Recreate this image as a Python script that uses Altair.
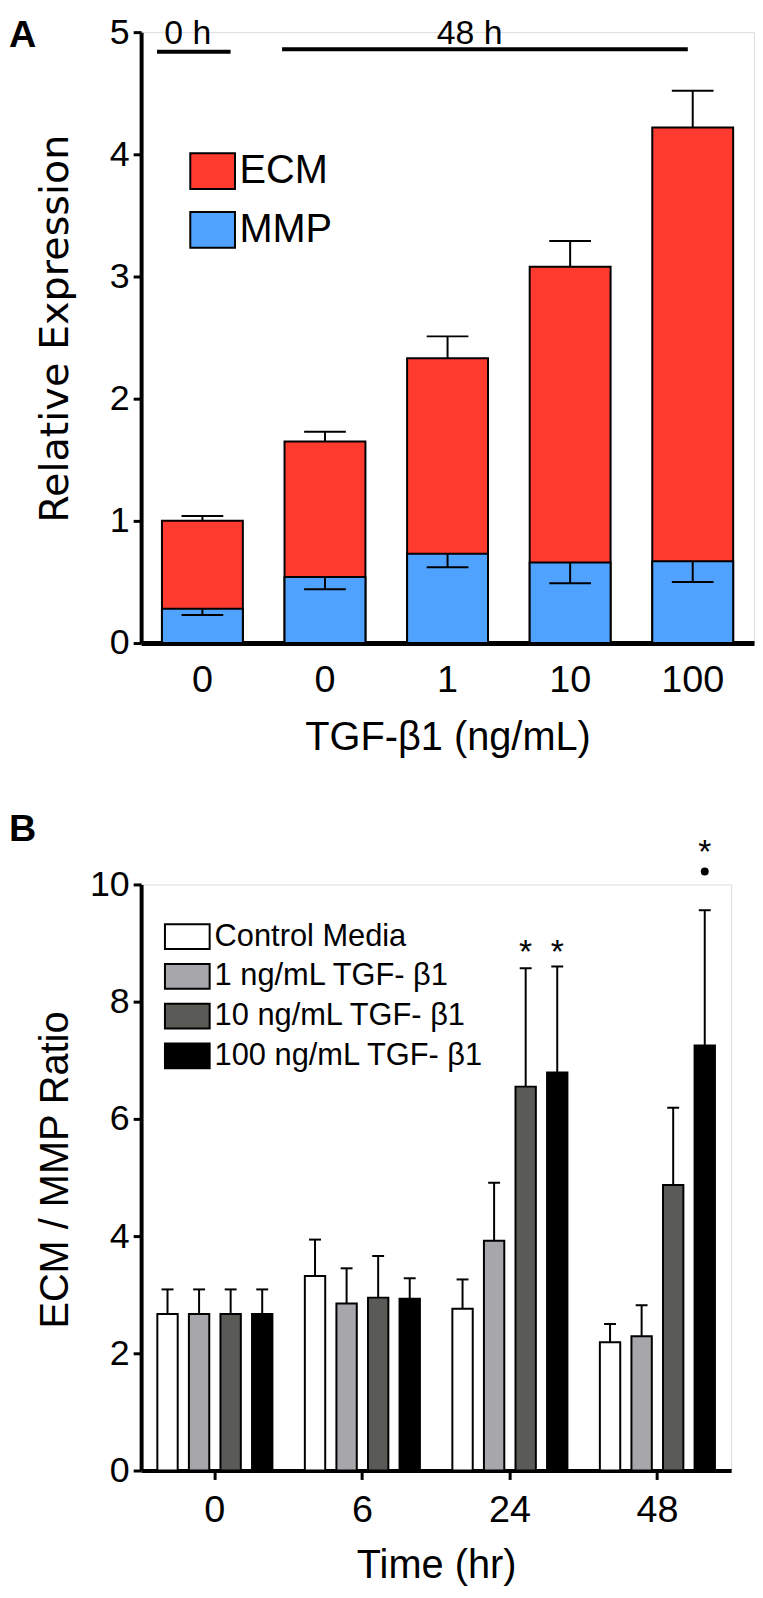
import altair as alt
import pandas as pd

# ---------------- Panel A data ----------------
a_keys = ["0h_0", "48h_0", "48h_1", "48h_10", "48h_100"]
a_tick_labels = ["0", "0", "1", "10", "100"]
a_measures = ["ECM", "MMP"]
a_colors = ["#ff3a2e", "#50a2ff"]
ecm_mean = [1.00, 1.65, 2.33, 3.08, 4.22]
ecm_err = [1.04, 1.73, 2.51, 3.29, 4.52]
mmp_mean = [0.28, 0.54, 0.73, 0.66, 0.67]
mmp_err = [0.23, 0.44, 0.62, 0.49, 0.50]

bracket_labels = ["0 h", "48 h"]
bracket_start = [0.13, 1.15]
bracket_end = [0.73, 4.46]
bracket_line_y = [4.84, 4.86]
bracket_text_x = [0.38, 2.68]
bracket_text_y = [4.90, 4.90]

# ---------------- Panel B data ----------------
b_times = ["0", "6", "24", "48"]
b_series = ["Control Media", "1 ng/mL TGF- β1", "10 ng/mL TGF- β1", "100 ng/mL TGF- β1"]
b_colors = ["#ffffff", "#a7a7ab", "#5a5b56", "#000000"]
b_control = [2.67, 3.32, 2.76, 2.19]
b_1ng = [2.67, 2.85, 3.92, 2.29]
b_10ng = [2.67, 2.95, 6.55, 4.87]
b_100ng = [2.67, 2.93, 6.79, 7.25]
b_control_err = [3.09, 3.94, 3.26, 2.50]
b_1ng_err = [3.09, 3.45, 4.91, 2.82]
b_10ng_err = [3.09, 3.66, 8.57, 6.19]
b_100ng_err = [3.09, 3.28, 8.60, 9.56]

star_times = ["24", "24", "48"]
star_series = [b_series[2], b_series[3], b_series[3]]
star_y = [8.99, 8.99, 10.68]
dot_times = ["48"]
dot_series = [b_series[3]]
dot_y = [10.22]

FONT = "Liberation Sans, Arial, Helvetica, sans-serif"
TFONT = "DejaVu Sans, Verdana, sans-serif"

# ---------------- Panel A tables ----------------
rowsA = []
for k, v in zip(a_keys, ecm_mean):
    rowsA.append({"cond": k, "measure": "ECM", "value": v})
for k, v in zip(a_keys, mmp_mean):
    rowsA.append({"cond": k, "measure": "MMP", "value": v})
dfA = pd.DataFrame(rowsA)
dfA_err = pd.DataFrame({"cond": a_keys + a_keys,
                        "value": ecm_mean + mmp_mean,
                        "err": ecm_err + mmp_err})
dfA_br = pd.DataFrame({"label": bracket_labels, "start": bracket_start, "end": bracket_end,
                       "ly": bracket_line_y, "tx": bracket_text_x, "ty": bracket_text_y})

label_map = "{" + ",".join(f"'{k}':'{l}'" for k, l in zip(a_keys, a_tick_labels)) + "}"

xA_scale = alt.Scale(domain=a_keys, paddingInner=0.34, paddingOuter=0.17)
yA_scale = alt.Scale(domain=[0, 5], nice=False)

axis_xA = alt.Axis(labelExpr=f"{label_map}[datum.value]", ticks=False, tickSize=0,
                   domainWidth=5, domainColor="black", labelAngle=0,
                   labelFont=FONT, labelFontSize=38, labelColor="black", labelPadding=19,
                   title="TGF-β1 (ng/mL)", titleFont=FONT, titleFontSize=40,
                   titleFontWeight="normal", titleColor="black",
                   titleY=107, titleBaseline="alphabetic")
axis_yA = alt.Axis(values=[0, 1, 2, 3, 4, 5], tickSize=8, tickWidth=3, tickColor="black",
                   domainWidth=4, domainColor="black", grid=False,
                   labelFont=FONT, labelFontSize=36, labelColor="black", labelPadding=4,
                   title="Relative Expression", titleFont=TFONT, titleFontSize=40,
                   titleFontWeight="normal", titleColor="black",
                   titleX=-74, titleY=298, titleBaseline="alphabetic", titleAlign="center",
                   titleAngle=270)


def XA():
    return alt.X("cond:N", sort=a_keys, scale=xA_scale, axis=axis_xA)


def YA(field):
    return alt.Y(field, scale=yA_scale, axis=axis_yA, stack=None)


legA = alt.Legend(orient="none", legendX=52, legendY=120, title=None,
                  symbolType="M-1.25,-1H1.25V1H-1.25Z", symbolSize=1296,
                  symbolStrokeColor="black", symbolStrokeWidth=2, symbolOpacity=1,
                  labelFont=FONT, labelFontSize=40, labelColor="black",
                  labelOffset=7, rowPadding=15, padding=0, labelLimit=400)

barsA = alt.Chart(dfA).mark_bar(stroke="black", strokeWidth=2, opacity=1).encode(
    x=XA(), y=YA("value:Q"),
    fill=alt.Fill("measure:N", scale=alt.Scale(domain=a_measures, range=a_colors), legend=legA),
)
ruleA = alt.Chart(dfA_err).mark_rule(color="black", strokeWidth=2).encode(
    x=XA(), y=YA("value:Q"), y2="err:Q")
capA = alt.Chart(dfA_err).mark_tick(color="black", size=42, thickness=2, opacity=1).encode(
    x=XA(), y=YA("err:Q"))

brX = alt.Scale(domain=[0, 5], nice=False, zero=False)
brRule = alt.Chart(dfA_br).mark_rule(color="black", strokeWidth=4).encode(
    x=alt.X("start:Q", scale=brX, axis=None), x2="end:Q", y=YA("ly:Q"))
brText = alt.Chart(dfA_br).mark_text(font=FONT, fontSize=34, color="black",
                                     baseline="alphabetic", align="center").encode(
    x=alt.X("tx:Q", scale=brX, axis=None), y=YA("ty:Q"), text="label:N")

labA = alt.Chart(pd.DataFrame({"t": ["A"]})).mark_text(
    font=FONT, fontSize=38, fontWeight="bold", color="black", align="left", baseline="top"
).encode(text="t:N", x=alt.value(-133), y=alt.value(-15))

panelA = alt.layer(
    alt.layer(barsA, ruleA, capA),
    alt.layer(brRule, brText),
    labA,
).resolve_scale(x="independent").properties(width=617, height=615)

# ---------------- Panel B tables ----------------
rowsB = []
for s, means, errs in zip(b_series, [b_control, b_1ng, b_10ng, b_100ng],
                          [b_control_err, b_1ng_err, b_10ng_err, b_100ng_err]):
    for t, m, e in zip(b_times, means, errs):
        rowsB.append({"time": t, "series": s, "mean": m, "err": e})
dfB = pd.DataFrame(rowsB)
dfStar = pd.DataFrame({"time": star_times, "series": star_series, "y": star_y})
dfDot = pd.DataFrame({"time": dot_times, "series": dot_series, "y": dot_y})

xB_scale = alt.Scale(domain=b_times, paddingInner=0.22, paddingOuter=0.11)
xoB_scale = alt.Scale(domain=b_series, paddingInner=0.355, paddingOuter=0)
yB_scale = alt.Scale(domain=[0, 10], nice=False)

axis_xB = alt.Axis(tickSize=9, tickWidth=3, tickColor="black", domainWidth=4, domainColor="black",
                   labelAngle=0, labelFont=FONT, labelFontSize=38, labelColor="black",
                   labelPadding=12, title="Time (hr)", titleFont=FONT, titleFontSize=40,
                   titleFontWeight="normal", titleColor="black",
                   titleY=108, titleBaseline="alphabetic")
axis_yB = alt.Axis(values=[0, 2, 4, 6, 8, 10], tickSize=8, tickWidth=3, tickColor="black",
                   domainWidth=4, domainColor="black", grid=False,
                   labelFont=FONT, labelFontSize=36, labelColor="black", labelPadding=4,
                   title="ECM / MMP Ratio", titleFont=FONT, titleFontSize=40,
                   titleFontWeight="normal", titleColor="black",
                   titleX=-74, titleY=287, titleBaseline="alphabetic", titleAlign="center",
                   titleAngle=270)


def XB():
    return alt.X("time:N", sort=b_times, scale=xB_scale, axis=axis_xB)


def XOB():
    return alt.XOffset("series:N", sort=b_series, scale=xoB_scale)


def YB(field):
    return alt.Y(field, scale=yB_scale, axis=axis_yB, stack=None)


legB = alt.Legend(orient="none", legendX=31, legendY=37, title=None,
                  symbolType="M-1.8,-1H1.8V1H-1.8Z", symbolSize=625,
                  symbolStrokeColor="black", symbolStrokeWidth=2, symbolOpacity=1,
                  labelFont=FONT, labelFontSize=31, labelColor="black",
                  labelOffset=12, rowPadding=7, padding=0, labelLimit=400)

barsB = alt.Chart(dfB).mark_bar(stroke="black", strokeWidth=2, opacity=1).encode(
    x=XB(), xOffset=XOB(), y=YB("mean:Q"),
    fill=alt.Fill("series:N", scale=alt.Scale(domain=b_series, range=b_colors), legend=legB),
)
ruleB = alt.Chart(dfB).mark_rule(color="black", strokeWidth=2).encode(
    x=XB(), xOffset=XOB(), y=YB("mean:Q"), y2="err:Q")
capB = alt.Chart(dfB).mark_tick(color="black", size=12, thickness=2, opacity=1).encode(
    x=XB(), xOffset=XOB(), y=YB("err:Q"))
starB = alt.Chart(dfStar).mark_text(text="*", font=FONT, fontSize=34, color="black",
                                    baseline="alphabetic", align="center", dy=19).encode(
    x=XB(), xOffset=XOB(), y=YB("y:Q"))
dotB = alt.Chart(dfDot).mark_circle(color="black", size=64, opacity=1).encode(
    x=XB(), xOffset=XOB(), y=YB("y:Q"))
labB = alt.Chart(pd.DataFrame({"t": ["B"]})).mark_text(
    font=FONT, fontSize=38, fontWeight="bold", color="black", align="left", baseline="top"
).encode(text="t:N", x=alt.value(-133), y=alt.value(-74))

panelB = alt.layer(barsB, ruleB, capB, starB, dotB, labB).properties(width=594, height=590)

chart = alt.vconcat(panelA, panelB, spacing=52).resolve_scale(
    fill="independent"
).resolve_legend(fill="independent").properties(
    padding={"left": 0, "top": 0, "right": 0, "bottom": 0}
).configure_view(stroke=None).configure(background="white")

chart.save("out.html", embed_options={"renderer": "svg", "actions": False})
